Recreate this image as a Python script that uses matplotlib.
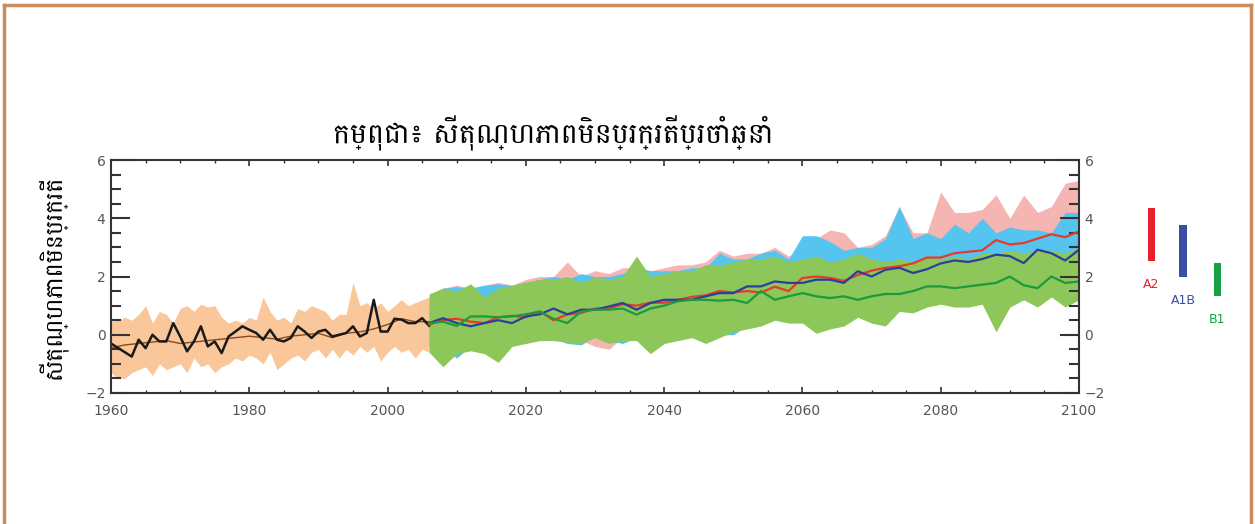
import numpy as np
import matplotlib
matplotlib.use("Agg")
import matplotlib.pyplot as plt
from matplotlib.ticker import MultipleLocator

# observed (black) and model mean (brown), 1960-2006
obs_years = np.arange(1960, 2007)
obs = [-0.3, -0.45, -0.6, -0.75, -0.17, -0.46, 0.0, -0.23, -0.23, 0.4,
       -0.06, -0.57, -0.23, 0.29, -0.4, -0.23, -0.63, -0.06, 0.11, 0.29,
       0.17, 0.06, -0.17, 0.17, -0.17, -0.23, -0.11, 0.29, 0.11, -0.11,
       0.11, 0.17, -0.06, 0.0, 0.06, 0.29, -0.06, 0.06, 1.2, 0.11,
       0.11, 0.55, 0.52, 0.4, 0.4, 0.57, 0.31]
hist_hi = [0.46, 0.5, 0.6, 0.5, 0.7, 1.0, 0.4, 0.8, 0.7, 0.4,
           0.9, 1.0, 0.8, 1.05, 0.95, 1.0, 0.6, 0.4, 0.5, 0.4,
           0.6, 0.5, 1.3, 0.8, 0.5, 0.6, 0.4, 0.9, 0.8, 1.0,
           0.9, 0.8, 0.5, 0.7, 0.7, 1.8, 1.0, 1.1, 0.9, 1.1,
           0.8, 1.0, 1.2, 1.0, 1.1, 1.2, 1.3]
hist_lo = [-1.3, -1.5, -1.5, -1.3, -1.2, -1.1, -1.4, -1.0, -1.2, -1.1,
           -1.0, -1.3, -0.8, -1.1, -1.0, -1.3, -1.1, -1.0, -0.8, -0.9,
           -0.7, -0.8, -1.0, -0.6, -1.2, -1.0, -0.8, -0.7, -0.9, -0.6,
           -0.5, -0.8, -0.5, -0.8, -0.5, -0.7, -0.4, -0.6, -0.4, -0.9,
           -0.6, -0.4, -0.6, -0.5, -0.8, -0.5, -0.6]
mean_years = np.arange(1960, 2007, 2)
model_mean = [-0.45, -0.35, -0.3, -0.25, -0.2, -0.3, -0.25, -0.2, -0.15, -0.1,
              -0.05, -0.1, -0.15, -0.05, 0.0, 0.05, -0.1, 0.05, 0.1, 0.2,
              0.35, 0.55, 0.45, 0.45]

# scenario projections, 2006-2100
proj_years = np.arange(2006, 2101, 2)
a2 = [0.35, 0.5, 0.55, 0.45, 0.4, 0.6, 0.65, 0.6, 0.8, 0.5,
      0.7, 0.75, 0.9, 0.9, 1.05, 1.0, 1.1, 1.1, 1.2, 1.3,
      1.35, 1.5, 1.45, 1.5, 1.45, 1.65, 1.5, 1.95, 2.0, 1.95,
      1.85, 2.05, 2.2, 2.3, 2.35, 2.45, 2.65, 2.65, 2.8, 2.85,
      2.9, 3.25, 3.1, 3.15, 3.3, 3.45, 3.35, 3.55]
a1b = [0.4, 0.57, 0.4, 0.29, 0.4, 0.5, 0.4, 0.63, 0.7, 0.9,
       0.7, 0.86, 0.86, 0.97, 1.09, 0.86, 1.09, 1.2, 1.2, 1.2,
       1.32, 1.43, 1.43, 1.66, 1.66, 1.83, 1.78, 1.78, 1.89, 1.89,
       1.78, 2.18, 2.0, 2.23, 2.3, 2.12, 2.25, 2.45, 2.55, 2.5,
       2.6, 2.75, 2.7, 2.46, 2.92, 2.8, 2.55, 2.92]
b1 = [0.4, 0.45, 0.3, 0.63, 0.63, 0.6, 0.63, 0.7, 0.8, 0.55,
      0.4, 0.8, 0.86, 0.86, 0.9, 0.69, 0.9, 1.0, 1.15, 1.2,
      1.2, 1.17, 1.2, 1.09, 1.5, 1.2, 1.32, 1.43, 1.32, 1.26,
      1.32, 1.2, 1.32, 1.4, 1.4, 1.5, 1.66, 1.66, 1.6, 1.66,
      1.72, 1.78, 2.0, 1.7, 1.6, 2.0, 1.78, 1.83]

a2_hi = [1.3, 1.6, 1.7, 1.6, 1.7, 1.8, 1.7, 1.9, 2.0, 2.0,
         2.5, 2.0, 2.2, 2.1, 2.3, 2.3, 2.2, 2.3, 2.4, 2.4,
         2.5, 2.9, 2.7, 2.8, 2.8, 3.0, 2.7, 3.0, 3.3, 3.6,
         3.5, 3.0, 3.1, 3.4, 4.4, 3.5, 3.5, 4.9, 4.2, 4.2,
         4.3, 4.8, 4.0, 4.8, 4.2, 4.4, 5.2, 5.3]
a2_lo = [-0.4, -1.0, -0.6, -0.4, -0.3, -0.7, -0.3, -0.2, -0.1, -0.1,
         -0.1, -0.2, -0.4, -0.5, -0.1, -0.1, -0.1, 0.0, 0.0, 0.0,
         0.1, 0.1, 0.1, 0.3, 0.4, 0.6, 0.6, 0.6, 0.5, 0.6,
         0.7, 0.8, 0.7, 0.8, 0.9, 1.0, 1.1, 1.2, 1.2, 1.3,
         1.3, 1.2, 1.4, 1.4, 1.5, 1.5, 1.5, 1.6]
a1b_hi = [1.2, 1.6, 1.65, 1.6, 1.7, 1.75, 1.7, 1.8, 1.9, 2.0,
          1.9, 2.1, 2.0, 2.0, 2.1, 2.3, 2.2, 2.2, 2.2, 2.3,
          2.3, 2.8, 2.6, 2.6, 2.8, 2.9, 2.6, 3.4, 3.4, 3.2,
          2.9, 3.0, 3.0, 3.3, 4.4, 3.3, 3.5, 3.3, 3.8, 3.5,
          4.0, 3.5, 3.7, 3.6, 3.6, 3.5, 4.2, 4.2]
a1b_lo = [-0.4, -0.5, -0.8, -0.4, -0.3, -0.5, -0.3, -0.2, -0.1, -0.15,
          -0.3, -0.35, -0.05, -0.2, -0.3, -0.1, -0.1, 0.0, 0.0, -0.05,
          0.1, 0.0, 0.0, 0.3, 0.4, 0.6, 0.6, 0.6, 0.5, 0.6,
          0.7, 0.8, 0.7, 0.8, 0.9, 1.0, 1.1, 1.2, 1.2, 1.3,
          1.3, 1.2, 1.4, 1.4, 1.5, 1.5, 1.5, 1.6]
b1_hi = [1.4, 1.6, 1.5, 1.75, 1.3, 1.6, 1.7, 1.8, 1.9, 1.9,
         2.0, 1.8, 2.0, 1.9, 2.0, 2.7, 2.0, 2.1, 2.2, 2.2,
         2.4, 2.4, 2.5, 2.6, 2.6, 2.7, 2.5, 2.6, 2.7, 2.5,
         2.6, 2.8, 2.6, 2.5, 2.6, 2.5, 2.7, 2.6, 2.7, 2.6,
         2.8, 2.8, 2.9, 2.8, 2.9, 2.9, 2.8, 3.0]
b1_lo = [-0.6, -1.1, -0.65, -0.55, -0.65, -0.95, -0.4, -0.3, -0.2, -0.2,
         -0.25, -0.3, -0.1, -0.3, -0.2, -0.2, -0.65, -0.3, -0.2, -0.1,
         -0.3, -0.1, 0.1, 0.2, 0.3, 0.5, 0.4, 0.4, 0.05, 0.2,
         0.3, 0.6, 0.4, 0.3, 0.8, 0.75, 0.95, 1.05, 0.95, 0.95,
         1.05, 0.1, 0.95, 1.2, 0.95, 1.3, 0.95, 1.2]

# 2100 warming ranges per scenario
scen_names = ["A2", "A1B", "B1"]
scen_lo = [2.54, 1.99, 1.34]
scen_hi = [4.36, 3.78, 2.47]
scen_colors = ["#e8202a", "#3a4ea8", "#1b9e48"]

title = "កម្ពុជា៖ សីតុណ្ហភាពមិនប្រក្រតីប្រចាំឆ្នាំ"
ylabel = "សីតុណ្ហភាពមិនប្រក្រតី"
khmer_font = ["Battambang", "Khmer", "DejaVu Sans"]

W, H = 1255, 524
fig = plt.figure(figsize=(W / 100, H / 100), dpi=100)
fig.patch.set_facecolor("white")

# thin brown page frame (top, left, right)
frame = "#cc8c5c"
fig.add_artist(plt.Line2D([4 / W, 4 / W], [0, 1 - 5 / H], color=frame, lw=2.5))
fig.add_artist(plt.Line2D([4 / W, 1251 / W], [1 - 5 / H, 1 - 5 / H], color=frame, lw=2.5))
fig.add_artist(plt.Line2D([1251 / W, 1251 / W], [0, 1 - 5 / H], color=frame, lw=2.5))

ax = fig.add_axes([111 / W, (H - 393) / H, (1079 - 111) / W, (393 - 160) / H])

ax.fill_between(obs_years, hist_lo, hist_hi, color="#f9c799", lw=0)
ax.fill_between(proj_years, a2_lo, a2_hi, color="#f5b5b3", lw=0)
ax.fill_between(proj_years, a1b_lo, a1b_hi, color="#55c4ef", lw=0)
ax.fill_between(proj_years, b1_lo, b1_hi, color="#8dc75a", lw=0)

ax.plot(mean_years, model_mean, color="#8a4a1a", lw=1.0)
ax.plot(obs_years, obs, color="#1a1a1a", lw=1.8)
ax.plot(proj_years, a2, color="#e63a2a", lw=1.6)
ax.plot(proj_years, a1b, color="#2c3f9c", lw=1.6)
ax.plot(proj_years, b1, color="#1c9a3c", lw=1.6)

ax.set_xlim(1960, 2100)
ax.set_ylim(-2, 6)
ax.xaxis.set_major_locator(MultipleLocator(20))
ax.xaxis.set_minor_locator(MultipleLocator(5))
ax.yaxis.set_major_locator(MultipleLocator(2))
ax.yaxis.set_minor_locator(MultipleLocator(0.5))
ax.tick_params(which="both", direction="in", top=True, right=True,
               labelright=True, colors="#333333", labelcolor="#555555",
               labelsize=10)
ax.tick_params(axis="x", which="major", length=4, width=1.2, pad=8)
ax.tick_params(axis="x", which="minor", length=2.5, width=1.0)
ax.tick_params(axis="y", which="major", length=14, width=1.5, pad=4)
ax.tick_params(axis="y", which="minor", length=7, width=1.5)
for s in ax.spines.values():
    s.set_color("#333333")
    s.set_linewidth(1.5)

fig.text(553 / W, 1 - 133 / H, title, ha="center", va="center", fontsize=20.5,
         family=khmer_font)
fig.text(52 / W, 1 - 277 / H, ylabel, ha="center", va="center", fontsize=17,
         rotation=90, family=khmer_font)

# scenario range bars to the right of the plot
bx = fig.add_axes([1120 / W, (H - 393) / H, 130 / W, (393 - 160) / H])
bx.set_xlim(0, 1)
bx.set_ylim(-2, 6)
bx.axis("off")
bar_x = [0.24, 0.485, 0.75]
for x, lo, hi, c, name in zip(bar_x, scen_lo, scen_hi, scen_colors, scen_names):
    bx.bar(x, hi - lo, bottom=lo, width=0.055, color=c)
    bx.annotate(name, (x, lo), xytext=(0, -17), textcoords="offset points",
                ha="center", va="center", color=c, fontsize=9)

fig.savefig("out.png", dpi=100)
